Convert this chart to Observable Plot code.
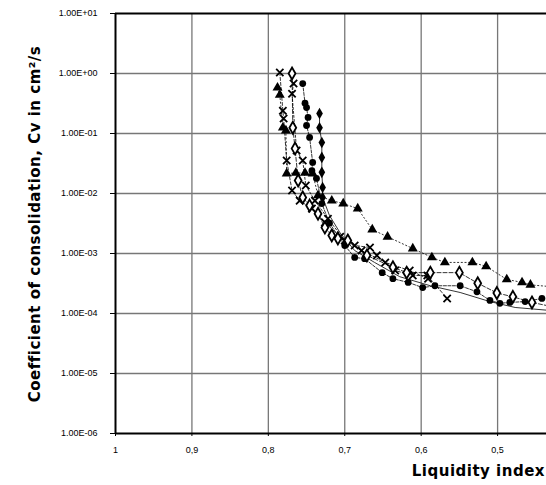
<!DOCTYPE html>
<html>
<head>
<meta charset="utf-8">
<script src="https://cdn.jsdelivr.net/npm/d3@7"></script>
<script src="https://cdn.jsdelivr.net/npm/@observablehq/plot@0.6"></script>
<style>
  html, body { margin: 0; padding: 0; background: #fff; }
  svg { display: block; }
</style>
</head>
<body>
<div id="chart"></div>
<script>
// ---- Data ----
const xTicks = [1, 0.9, 0.8, 0.7, 0.6, 0.5];
const yTicks = [1e-6, 1e-5, 1e-4, 1e-3, 1e-2, 1e-1, 1e0, 1e1];

const triLI = [0.788, 0.785, 0.781, 0.777, 0.776, 0.764, 0.752, 0.742, 0.735, 0.717, 0.702, 0.683, 0.664, 0.644, 0.611, 0.586, 0.569, 0.533, 0.515, 0.488, 0.468, 0.457, 0.43];
const triCV = [0.58, 0.44, 0.125, 0.112, 0.0215, 0.022, 0.022, 0.0215, 0.0093, 0.0076, 0.0068, 0.0056, 0.0025, 0.0019, 0.00121, 0.00086, 0.00071, 0.00071, 0.00061, 0.00037, 0.00033, 0.0003, 0.00028];

const crossALI = [0.785, 0.781, 0.780, 0.776, 0.769, 0.759, 0.743, 0.726, 0.706, 0.687, 0.667, 0.658, 0.634, 0.611, 0.592, 0.566];
const crossACV = [1.04, 0.24, 0.178, 0.0355, 0.0112, 0.0076, 0.0056, 0.0033, 0.0019, 0.00136, 0.00126, 0.00093, 0.00052, 0.00043, 0.00043, 0.000178];

const crossBLI = [0.767, 0.769, 0.763, 0.755, 0.751, 0.739, 0.722, 0.700, 0.678, 0.647, 0.615, 0.591];
const crossBCV = [0.68, 0.46, 0.052, 0.0355, 0.0136, 0.0076, 0.0038, 0.00165, 0.00112, 0.00071, 0.00052, 0.00038];

const openLI = [0.769, 0.768, 0.765, 0.761, 0.755, 0.746, 0.735, 0.726, 0.717, 0.709, 0.696, 0.671, 0.637, 0.619, 0.588, 0.550, 0.526, 0.501, 0.480, 0.455, 0.43];
const openCV = [1.0, 0.125, 0.056, 0.0165, 0.0086, 0.0063, 0.0046, 0.0027, 0.0020, 0.00178, 0.00165, 0.00093, 0.00059, 0.00048, 0.00048, 0.00048, 0.00032, 0.00022, 0.00019, 0.000153, 0.000131];

const circLI = [0.755, 0.752, 0.750, 0.748, 0.750, 0.746, 0.742, 0.743, 0.737, 0.730, 0.720, 0.700, 0.687, 0.674, 0.651, 0.637, 0.617, 0.598, 0.582, 0.549, 0.527, 0.510, 0.497, 0.484, 0.464, 0.442];
const circCV = [0.68, 0.32, 0.27, 0.185, 0.136, 0.086, 0.033, 0.024, 0.0178, 0.0068, 0.0032, 0.00136, 0.00086, 0.00082, 0.00048, 0.00038, 0.00033, 0.00027, 0.00029, 0.00029, 0.00023, 0.000165, 0.000148, 0.000153, 0.000158, 0.000178];

const diaLI = [0.733, 0.733, 0.730, 0.730, 0.730, 0.729, 0.729, 0.720, 0.706, 0.687, 0.661, 0.628, 0.588, 0.549, 0.510, 0.477, 0.43];
const diaCV = [0.215, 0.125, 0.071, 0.040, 0.0225, 0.0126, 0.0086, 0.0043, 0.0022, 0.00112, 0.00071, 0.00041, 0.00029, 0.000224, 0.000158, 0.000126, 0.000112];

const xTitle = "Liquidity index";
const yTitle = "Coefficient of consolidation, Cv in cm²/s";

// ---- Build tables ----
const zip = (li, cv) => li.map((v, i) => ({li: v, cv: cv[i]}));
const tri = zip(triLI, triCV);
const crossA = zip(crossALI, crossACV);
const crossB = zip(crossBLI, crossBCV);
const open = zip(openLI, openCV);
const circ = zip(circLI, circCV);
const dia = zip(diaLI, diaCV);

const xDomain = [1, 0.436];
const inX = d => d.li >= xDomain[1];

function sci(d) {
  const e = Math.round(Math.log10(d));
  return "1.00E" + (e < 0 ? "-" : "+") + String(Math.abs(e)).padStart(2, "0");
}

const lineOpts = {x: "li", y: "cv", stroke: "black", strokeWidth: 0.8, clip: true};

const chart = Plot.plot({
  width: 546,
  height: 485,
  marginLeft: 115,
  marginRight: 0,
  marginTop: 13,
  marginBottom: 52,
  style: {fontFamily: "'Liberation Sans', Arial, sans-serif", fontSize: "9px", background: "white", overflow: "visible"},
  x: {domain: xDomain},
  y: {type: "log", domain: [1e-6, 10]},
  marks: [
    Plot.ruleX(xTicks.filter(d => d !== 1), {stroke: "#777", strokeWidth: 1.3}),
    Plot.ruleY(yTicks.filter(d => d !== 1e-6 && d !== 10), {stroke: "#777", strokeWidth: 1.3}),
    Plot.line(tri, {...lineOpts, strokeDasharray: "1.2,2.5"}),
    Plot.line(crossA, {...lineOpts, strokeDasharray: "3,2"}),
    Plot.line(crossB, {...lineOpts, strokeDasharray: "2,2"}),
    Plot.line(open, {...lineOpts, strokeDasharray: "4,2"}),
    Plot.line(circ, {...lineOpts, strokeDasharray: "3,1.5"}),
    Plot.line(dia, {...lineOpts}),
    Plot.dot(tri.filter(inX), {x: "li", y: "cv", symbol: "triangle", r: 3.7, fill: "black"}),
    Plot.dot(crossA.filter(inX), {x: "li", y: "cv", symbol: "times", r: 3.4, stroke: "black", strokeWidth: 1.8}),
    Plot.dot(crossB.filter(inX), {x: "li", y: "cv", symbol: "times", r: 3.4, stroke: "black", strokeWidth: 1.8}),
    Plot.dot(dia.filter(inX).filter(d => d.li > 0.72), {x: "li", y: "cv", symbol: "diamond", r: 3.5, fill: "black"}),
    Plot.dot(circ.filter(inX), {x: "li", y: "cv", symbol: "circle", r: 3.4, fill: "black"}),
    Plot.dot(open.filter(inX), {x: "li", y: "cv", symbol: "diamond", r: 3.6, fill: "white", stroke: "black", strokeWidth: 1.8}),
    Plot.ruleY([10], {stroke: "black", strokeWidth: 2.2}),
    Plot.ruleY([1e-6], {stroke: "black", strokeWidth: 2}),
    Plot.ruleX([1], {stroke: "black", strokeWidth: 2}),
    Plot.axisY(yTicks, {anchor: "left", tickFormat: sci, tickSize: 5, tickPadding: 13, label: null}),
    Plot.axisX(xTicks, {anchor: "bottom", tickFormat: d => String(d).replace(".", ","), tickSize: 3, tickPadding: 10, label: null})
  ]
});

document.getElementById("chart").appendChild(chart);

const svg = d3.select(chart);
svg.append("text")
  .attr("transform", "translate(40,224) rotate(-90)")
  .attr("text-anchor", "middle")
  .attr("font-family", "'DejaVu Sans', Verdana, sans-serif")
  .attr("font-weight", "bold")
  .attr("font-size", "15px")
  .attr("letter-spacing", "0.5px")
  .attr("fill", "black")
  .text(yTitle);
svg.append("text")
  .attr("x", 545)
  .attr("y", 476)
  .attr("text-anchor", "end")
  .attr("font-family", "'DejaVu Sans', Verdana, sans-serif")
  .attr("font-weight", "bold")
  .attr("font-size", "15px")
  .attr("letter-spacing", "0.5px")
  .attr("fill", "black")
  .text(xTitle);
</script>
</body>
</html>
